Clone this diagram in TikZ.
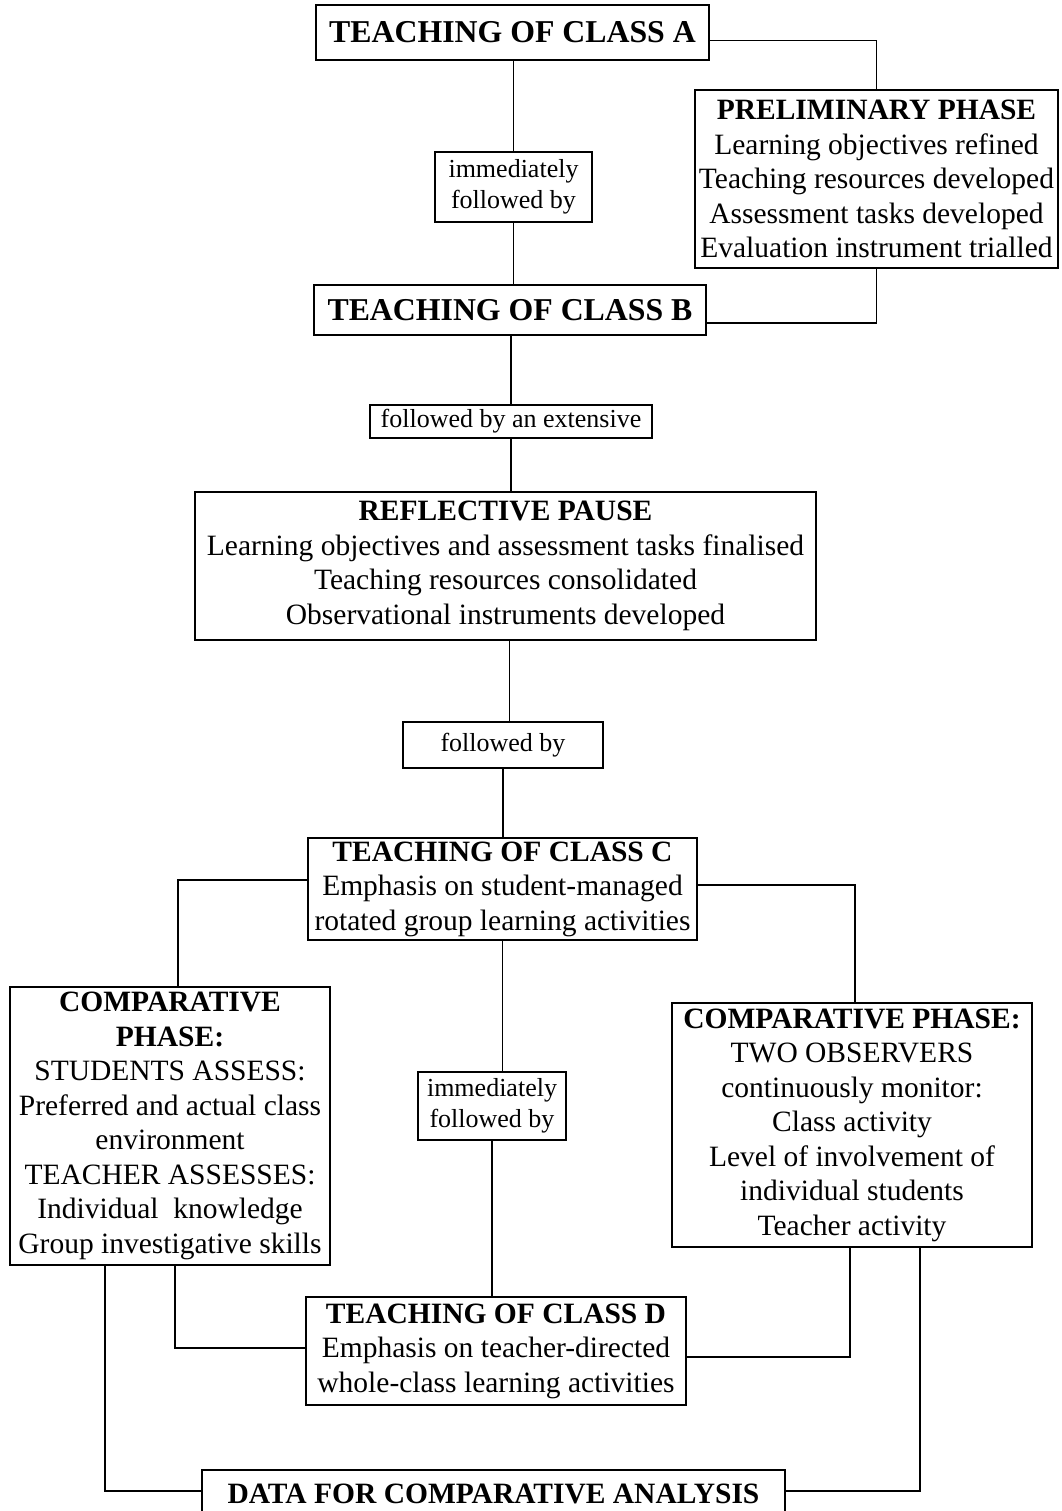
\documentclass[tikz,border=0pt]{standalone}
\usepackage{fontspec}
\setmainfont{Liberation Serif}
\begin{document}
\begin{tikzpicture}[x=1pt,y=-1pt,
  box/.style={draw,line width=1.6pt,rectangle,inner sep=0pt,align=center,
    font=\fontsize{29.5}{34.5}\selectfont},
  bigbox/.style={box,font=\fontsize{31.8}{36}\selectfont\bfseries},
  tag/.style={box,font=\fontsize{26}{31}\selectfont},
  link/.style={line width=1.6pt}]
\useasboundingbox (0,0) rectangle (1061,1511);
\fill[white] (0,0) rectangle (1061,1511);

% upper chain
\node[bigbox,minimum width=393,minimum height=55] (A) at (512.5,32.5) {TEACHING OF CLASS A};
\node[box,minimum width=363,minimum height=178] (Prelim) at (876.5,179)
  {\textbf{PRELIMINARY PHASE}\\Learning objectives refined\\Teaching resources developed\\Assessment tasks developed\\Evaluation instrument trialled};
\node[tag,minimum width=157,minimum height=70] (L1) at (513.5,187) {immediately\\followed by};
\node[bigbox,minimum width=392,minimum height=50] (B) at (510,310) {TEACHING OF CLASS B};
\node[tag,minimum width=282,minimum height=33] (L2) at (511,421.5) {followed by an extensive};
\node[box,minimum width=621,minimum height=148] (R) at (505.5,566)
  {\textbf{REFLECTIVE PAUSE}\\Learning objectives and assessment tasks finalised\\Teaching resources consolidated\\Observational instruments developed};
\node[tag,minimum width=200,minimum height=46] (L3) at (503,745) {followed by};
\node[box,minimum width=389,minimum height=102] (C) at (502.5,889)
  {\textbf{TEACHING OF CLASS C}\\Emphasis on student-managed\\rotated group learning activities};

% comparative phase
\node[box,minimum width=320,minimum height=278] (LC) at (170,1126)
  {\textbf{COMPARATIVE}\\\textbf{PHASE:}\\STUDENTS ASSESS:\\Preferred and actual class\\environment\\TEACHER ASSESSES:\\Individual\ \ knowledge\\Group investigative skills};
\node[box,minimum width=360,minimum height=244] (RC) at (852,1125)
  {\textbf{COMPARATIVE PHASE:}\\TWO OBSERVERS\\continuously monitor:\\Class activity\\Level of involvement of\\individual students\\Teacher activity};
\node[tag,minimum width=148,minimum height=68] (L4) at (492,1106) {immediately\\followed by};
\node[box,minimum width=380,minimum height=108] (D) at (496,1351)
  {\textbf{TEACHING OF CLASS D}\\Emphasis on teacher-directed\\whole-class learning activities};
\node[box,font=\fontsize{29.5}{34.5}\selectfont\bfseries,minimum width=583,minimum height=48] (Data) at (493.5,1494)
  {DATA FOR COMPARATIVE ANALYSIS};

% connectors
\draw[link] ([yshift=-8pt]A.east) -| (Prelim.north);
\draw[link] (Prelim.south) |- ([yshift=-13pt]B.east);
\draw[link] (L1.north) -- (L1.north |- A.south);
\draw[link] (L1.south) -- (L1.south |- B.north);
\draw[link] (L2.north) -- (L2.north |- B.south);
\draw[link] (L2.south) -- (L2.south |- R.north);
\draw[link] ([xshift=4pt]R.south) -- ([xshift=4pt]R.south |- L3.north);
\draw[link] (L3.south) -- (L3.south |- C.north);
\draw[link] ([yshift=9pt]C.west) -| ([xshift=8pt]LC.north);
\draw[link] ([yshift=4pt]C.east) -| ([xshift=3pt]RC.north);
\draw[link] (C.south) -- (C.south |- L4.north);
\draw[link] (L4.south) -- (L4.south |- D.north);
\draw[link] ([xshift=5pt]LC.south) |- ([yshift=3pt]D.west);
\draw[link] ([xshift=-2pt]RC.south) |- ([yshift=-6pt]D.east);
\draw[link] ([xshift=-65pt]LC.south) |- ([yshift=3pt]Data.west);
\draw[link] ([xshift=68pt]RC.south) |- ([yshift=3pt]Data.east);
\end{tikzpicture}
\end{document}
